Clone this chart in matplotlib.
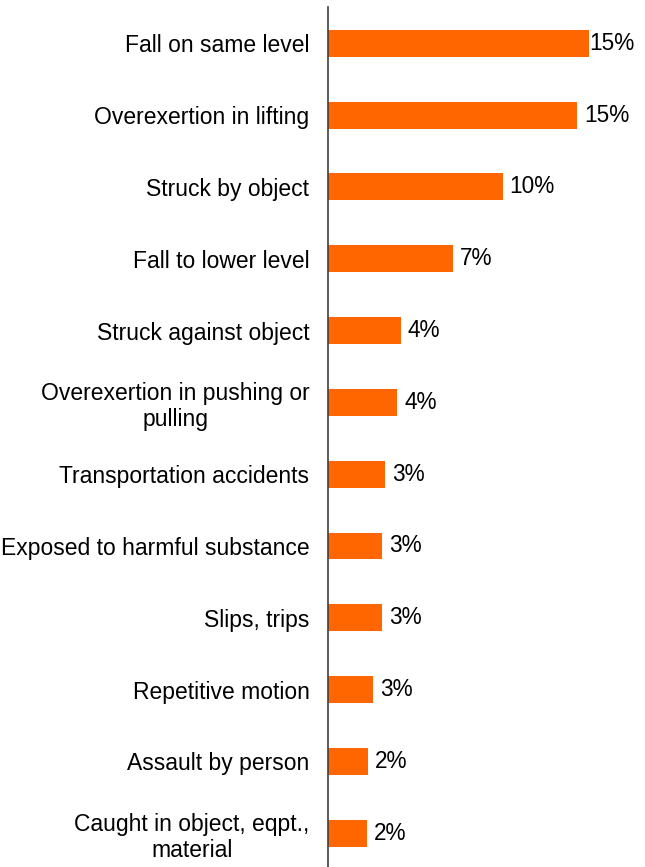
import matplotlib
matplotlib.use("Agg")
import matplotlib.pyplot as plt

# Share of injuries by event type (percent)
categories = [
    "Fall on same level",
    "Overexertion in lifting",
    "Struck by object",
    "Fall to lower level",
    "Struck against object",
    "Overexertion in pushing or\npulling",
    "Transportation accidents",
    "Exposed to harmful substance",
    "Slips, trips",
    "Repetitive motion",
    "Assault by person",
    "Caught in object, eqpt.,\nmaterial",
]
shares = [15.4, 14.7, 10.3, 7.4, 4.3, 4.1, 3.4, 3.2, 3.2, 2.7, 2.4, 2.3]

BAR_COLOR = "#FF6600"
FONT = "Liberation Sans"

fig = plt.figure(figsize=(6.45, 8.67), dpi=100)
ax = fig.add_axes([0.5078, 0.0, 0.4922, 0.9915])

pos = list(range(len(categories)))
ax.barh(pos, shares, height=0.375, color=BAR_COLOR)

ax.set_xlim(0, 18.68)
ax.set_ylim(11.47, -0.5)

ax.set_yticks(pos)
ax.set_yticklabels(categories, fontsize=16.5, family=FONT, color="black",
                   linespacing=1.2, multialignment="center")
ax.tick_params(axis="y", length=0, pad=13)
ax.set_xticks([])

for side in ["top", "right", "bottom"]:
    ax.spines[side].set_visible(False)
ax.spines["left"].set_color("#404040")
ax.spines["left"].set_linewidth(1.2)

# value labels; keep the longest one inside the plot area
for i, v in enumerate(shares):
    ax.annotate(f"{v:.0f}%", xy=(min(v, 15.0), i), xytext=(7, 0),
                textcoords="offset pixels", ha="left", va="center",
                fontsize=16.3, family=FONT, color="black")

fig.savefig("out.png", dpi=100)
